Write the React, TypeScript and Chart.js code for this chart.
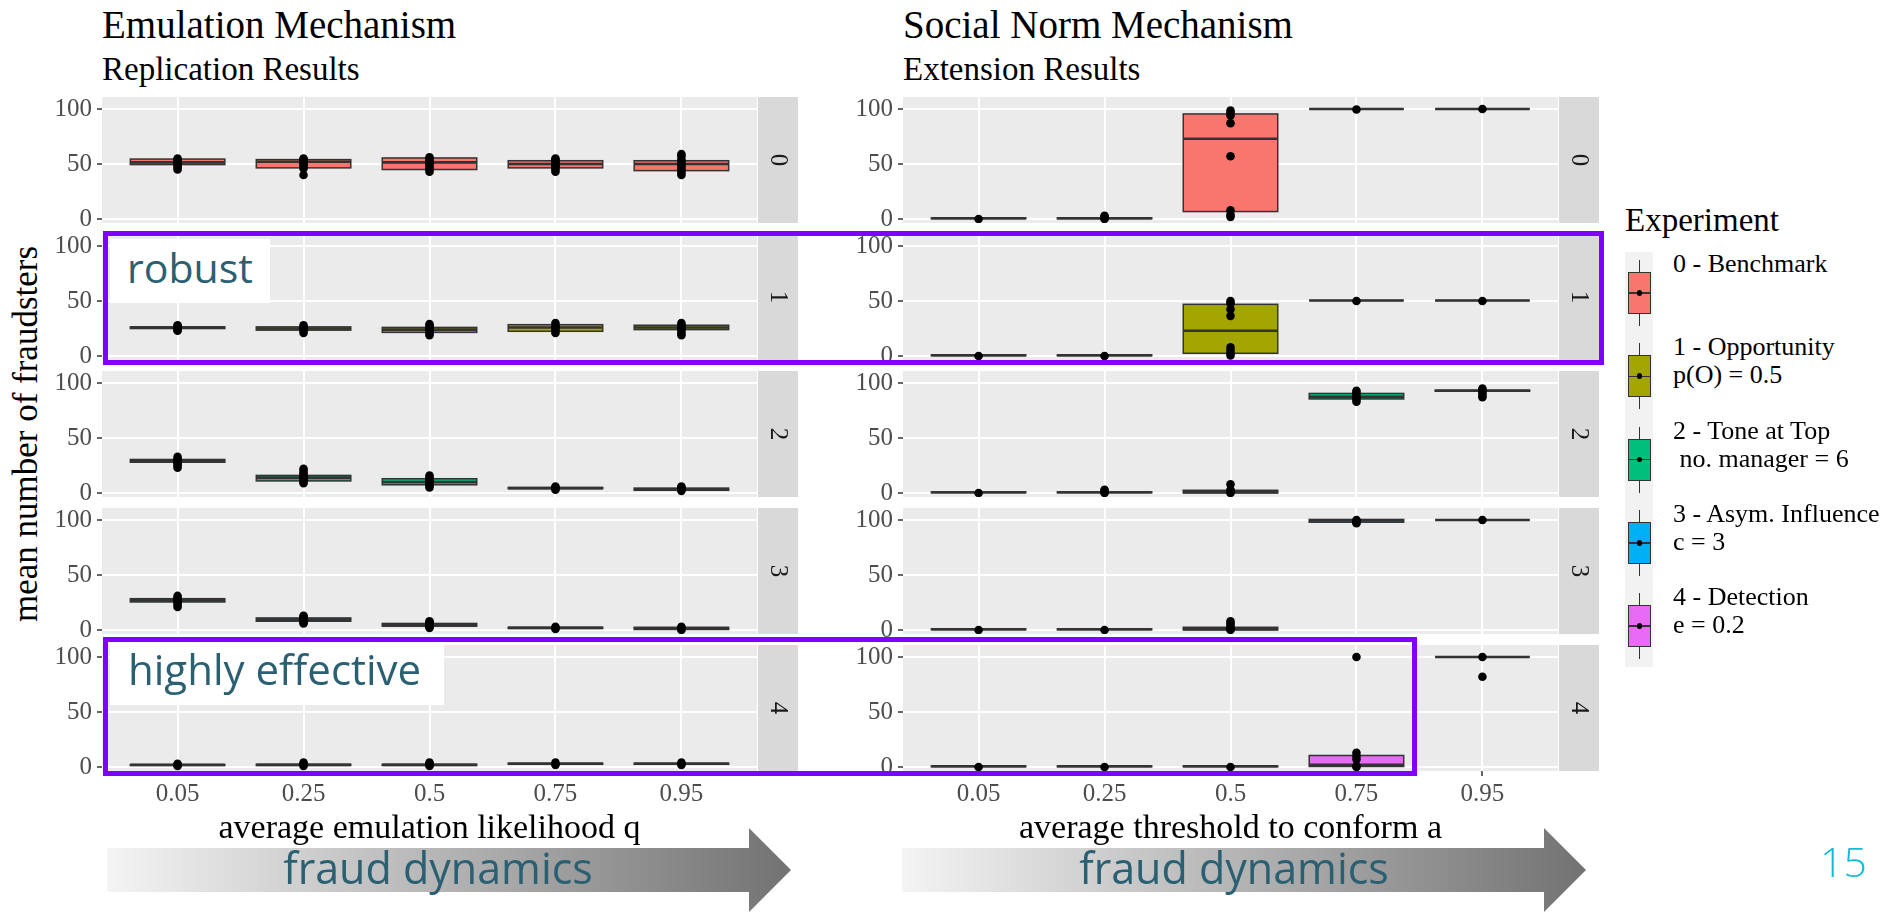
import React, { useEffect, useRef } from 'react';
import { Chart, registerables } from 'chart.js';
Chart.register(...registerables);

// ---------------- data ----------------
const categories = ['0.05', '0.25', '0.5', '0.75', '0.95'];
const experimentIds = ['0', '1', '2', '3', '4'];
const experimentColors = ['#F8766D', '#A3A500', '#00BF7D', '#00B0F6', '#E76BF3'];
const legendTitle = 'Experiment';
const legendLines = [
  ['0 - Benchmark', ''],
  ['1 - Opportunity', 'p(O) = 0.5'],
  ['2 - Tone at Top', ' no. manager = 6'],
  ['3 - Asym. Influence', 'c = 3'],
  ['4 - Detection', 'e = 0.2'],
];
const yTickValues = [0, 25, 50, 75, 100];
const yLabelledTicks = [0, 50, 100];
const yAxisTitle = 'mean number of fraudsters';
const emuTitle = 'Emulation Mechanism';
const emuSubtitle = 'Replication Results';
const emuXTitle = 'average emulation likelihood q';
const normTitle = 'Social Norm Mechanism';
const normSubtitle = 'Extension Results';
const normXTitle = 'average threshold to conform a';

// Emulation mechanism (rows = experiments 0..4, columns = categories)
const emuQ1 = [
  [49.5, 46.5, 45, 46.5, 44],
  [25, 23.5, 21.5, 22.5, 24],
  [28, 11, 7.5, 4, 2.5],
  [25.5, 8, 3.5, 1.5, 0.5],
  [1.5, 1.5, 1.5, 2.5, 2.5],
];
const emuMedian = [
  [51.5, 52, 51.5, 50, 50],
  [26, 25, 24, 26, 26],
  [29.5, 14, 10, 4.5, 3.5],
  [27, 9.5, 4.5, 2, 1.5],
  [2, 2, 2, 3, 3],
];
const emuQ3 = [
  [54.5, 54, 55.5, 53, 53],
  [26.5, 26.5, 26, 28.5, 28],
  [30.5, 16, 13, 5, 4.5],
  [28.5, 11, 6, 2.5, 2.5],
  [2.2, 2.5, 2.5, 3.5, 3.5],
];
const emuPoints = [
  [
    [45, 47, 49, 50, 51, 52, 53, 54, 55],
    [40, 46, 48, 50, 51, 52, 53, 54, 55],
    [43, 45, 47, 49, 51, 52, 53, 55, 56],
    [43, 45, 47, 48, 50, 51, 52, 54, 55],
    [40, 42, 44, 46, 48, 50, 52, 54, 57, 59],
  ],
  [
    [23, 24, 25, 26, 27, 28],
    [21, 23, 24, 25, 26, 28],
    [19, 21, 22, 24, 25, 27, 29],
    [21, 23, 25, 27, 28, 30],
    [19, 21, 23, 25, 26, 27, 28, 30],
  ],
  [
    [23, 25, 27, 28, 29, 30, 31, 33],
    [9, 11, 12, 13, 14, 15, 16, 18, 20, 22],
    [5, 7, 8, 9, 10, 11, 12, 14, 16],
    [3, 4, 5, 6],
    [2, 3, 4, 5, 6],
  ],
  [
    [21, 23, 25, 26, 27, 28, 29, 31],
    [6, 7, 8, 9, 10, 11, 12, 13],
    [2, 3, 4, 5, 6, 7, 8],
    [1, 2, 3],
    [0, 1, 2, 3],
  ],
  [
    [1, 2, 3],
    [1, 2, 3, 4],
    [1, 2, 3, 4],
    [2, 3, 4],
    [2, 3, 4],
  ],
];

// Social norm mechanism
const normQ1 = [
  [0.3, 0.3, 6.8, 100, 100],
  [0.3, 0.3, 2.5, 50.5, 50.5],
  [0.3, 0.3, 0, 85.5, 92.5],
  [0.3, 0.3, 0, 98, 100],
  [0.3, 0.3, 0.3, 0.5, 100],
];
const normMedian = [
  [0.7, 0.7, 73, 100, 100],
  [0.7, 0.7, 23, 50.5, 50.5],
  [0.7, 0.7, 1, 87.5, 93],
  [0.7, 0.7, 1, 99.5, 100],
  [0.7, 0.7, 0.7, 2, 100],
];
const normQ3 = [
  [1, 1, 95.5, 100, 100],
  [1, 1, 47, 50.5, 50.5],
  [1, 1, 2.5, 90.5, 93.5],
  [1, 1, 2.5, 100.5, 100],
  [1, 1, 1, 10.5, 100],
];
const normPoints = [
  [[0], [0, 1, 2, 3], [2, 4, 8, 57, 87, 94, 96.5, 98.5], [99.5], [100]],
  [[0], [0], [0.5, 2.5, 5, 8, 36.5, 42.5, 48, 50], [50], [50]],
  [[0], [0, 1, 2, 3], [0, 1, 2, 3, 8], [83, 85, 87, 89, 91, 93], [87, 89, 91, 93, 95]],
  [[0], [0], [0, 1, 2, 4, 6, 8], [97, 98, 99, 100], [100]],
  [[0], [0], [0], [0, 1, 7, 10, 13, 100], [82, 100]],
];

// ---------------- layout / style ----------------
const SERIF = '"Liberation Serif", "Times New Roman", serif';
const SANS = '"Open Sans", "Noto Sans", sans-serif';
const PANEL_LEFT = [102, 903];
const PANEL_W = 655;
const PANEL_H = 126;
const PANEL_TOP = [97, 234, 371, 508, 645];
const AXIS_W = 62;
const STRIP_GAP = 1;
const STRIP_W = 40;
const PAD = 10;
const XAXIS_H = 78;
const TEAL = '#2B6073';
const PURPLE = '#7F00FF';

function whiskerEnds(points: number[], q1: number, q3: number) {
  const iqr = q3 - q1;
  const lo = q1 - 1.5 * iqr;
  const hi = q3 + 1.5 * iqr;
  const inside = points.filter((p) => p >= lo && p <= hi);
  const min = inside.length ? Math.min(q1, ...inside) : q1;
  const max = inside.length ? Math.max(q3, ...inside) : q3;
  return [min, max];
}

function Panel({ col, row }: { col: number; row: number }) {
  const ref = useRef<HTMLCanvasElement | null>(null);
  const isBottom = row === 4;
  const q1 = col === 0 ? emuQ1[row] : normQ1[row];
  const med = col === 0 ? emuMedian[row] : normMedian[row];
  const q3 = col === 0 ? emuQ3[row] : normQ3[row];
  const pts = col === 0 ? emuPoints[row] : normPoints[row];
  const xTitle = col === 0 ? emuXTitle : normXTitle;
  const width = AXIS_W + PANEL_W + STRIP_GAP + STRIP_W;
  const height = PAD + PANEL_H + (isBottom ? XAXIS_H : PAD);

  useEffect(() => {
    if (!ref.current) return;
    const color = experimentColors[row];
    const deco = {
      id: 'deco' + col + row,
      beforeDraw(chart: any) {
        const { ctx, chartArea } = chart;
        ctx.save();
        ctx.fillStyle = '#EBEBEB';
        ctx.fillRect(chartArea.left, chartArea.top, chartArea.right - chartArea.left, chartArea.bottom - chartArea.top);
        ctx.restore();
      },
      afterDatasetDraw(chart: any, args: any) {
        if (args.index !== 0) return;
        const { ctx } = chart;
        const ys = chart.scales.y;
        const meta = chart.getDatasetMeta(0);
        ctx.save();
        ctx.strokeStyle = '#333333';
        meta.data.forEach((el: any, i: number) => {
          const w = el.width;
          const x = el.x;
          const [wlo, whi] = whiskerEnds(pts[i], q1[i], q3[i]);
          const yq1 = ys.getPixelForValue(q1[i]);
          const yq3 = ys.getPixelForValue(q3[i]);
          const ym = ys.getPixelForValue(med[i]);
          ctx.lineWidth = 1.2;
          ctx.beginPath();
          ctx.moveTo(x, yq3);
          ctx.lineTo(x, ys.getPixelForValue(whi));
          ctx.moveTo(x, yq1);
          ctx.lineTo(x, ys.getPixelForValue(wlo));
          ctx.stroke();
          ctx.lineWidth = 1.5;
          ctx.strokeRect(x - w / 2, yq3, w, yq1 - yq3);
          ctx.lineWidth = 2.6;
          ctx.beginPath();
          ctx.moveTo(x - w / 2, ym);
          ctx.lineTo(x + w / 2, ym);
          ctx.stroke();
        });
        ctx.restore();
      },
      afterDraw(chart: any) {
        const { ctx, chartArea } = chart;
        const sx = chartArea.right + STRIP_GAP;
        ctx.save();
        ctx.fillStyle = '#D9D9D9';
        ctx.fillRect(sx, chartArea.top, STRIP_W, chartArea.bottom - chartArea.top);
        ctx.translate(sx + STRIP_W / 2, (chartArea.top + chartArea.bottom) / 2);
        ctx.rotate(Math.PI / 2);
        ctx.fillStyle = '#1A1A1A';
        ctx.font = '25px ' + SERIF;
        ctx.textAlign = 'center';
        ctx.textBaseline = 'middle';
        ctx.fillText(experimentIds[row], 0, 0);
        ctx.restore();
      },
    };

    const chart = new Chart(ref.current, {
      type: 'bar',
      data: {
        datasets: [
          {
            type: 'bar',
            data: categories.map((_, i) => ({ x: i + 1, y: [q1[i], q3[i]] })),
            backgroundColor: color,
            borderWidth: 0,
            barPercentage: 0.75,
            categoryPercentage: 1,
            grouped: false,
            order: 2,
          } as any,
          {
            type: 'scatter',
            data: pts.flatMap((arr, i) => arr.map((v) => ({ x: i + 1, y: v }))),
            pointRadius: 4.3,
            pointBackgroundColor: '#000000',
            pointBorderWidth: 0,
            order: 1,
          } as any,
        ],
      },
      options: {
        animation: false,
        responsive: false,
        devicePixelRatio: 1,
        events: [],
        layout: { padding: { top: PAD, bottom: isBottom ? 0 : PAD, left: 0, right: STRIP_GAP + STRIP_W } },
        plugins: { legend: { display: false }, tooltip: { enabled: false } },
        scales: {
          x: {
            type: 'linear',
            min: 0.4,
            max: 5.6,
            offset: false,
            afterBuildTicks: (s: any) => {
              s.ticks = categories.map((_, i) => ({ value: i + 1 }));
            },
            afterFit: (s: any) => {
              s.height = isBottom ? XAXIS_H : 0;
              s.paddingLeft = 0;
              s.paddingRight = 0;
            },
            grid: {
              color: '#FFFFFF',
              lineWidth: 2,
              offset: false,
              drawTicks: isBottom,
              tickLength: 5,
              tickColor: '#333333',
              tickWidth: 1.5,
            },
            border: { display: false },
            ticks: {
              display: isBottom,
              autoSkip: false,
              maxRotation: 0,
              padding: 3,
              color: '#4D4D4D',
              font: { family: SERIF, size: 25 },
              callback: (v: any) => categories[Math.round(Number(v)) - 1] ?? '',
            },
            title: {
              display: isBottom,
              text: xTitle,
              color: '#000000',
              font: { family: SERIF, size: 34 },
              padding: 0,
            },
          },
          y: {
            type: 'linear',
            min: -3.6,
            max: 110.9,
            afterBuildTicks: (s: any) => {
              s.ticks = yTickValues.map((v) => ({ value: v }));
            },
            afterFit: (s: any) => {
              s.width = AXIS_W;
              s.paddingTop = 0;
              s.paddingBottom = 0;
            },
            grid: {
              color: '#FFFFFF',
              lineWidth: (c: any) => (c.tick && yLabelledTicks.includes(c.tick.value) ? 2 : 1),
              drawTicks: true,
              tickLength: 5,
              tickColor: (c: any) => (c.tick && yLabelledTicks.includes(c.tick.value) ? '#333333' : 'rgba(0,0,0,0)'),
              tickWidth: 1.5,
            },
            border: { display: false },
            ticks: {
              padding: 5,
              color: '#4D4D4D',
              font: { family: SERIF, size: 25 },
              callback: (v: any) => (yLabelledTicks.includes(Number(v)) ? String(v) : ''),
            },
          },
        },
      } as any,
      plugins: [deco],
    });
    return () => chart.destroy();
  }, []);

  return (
    <canvas
      ref={ref}
      width={width}
      height={height}
      style={{
        position: 'absolute',
        left: PANEL_LEFT[col] - AXIS_W,
        top: PANEL_TOP[row] - PAD,
        width,
        height,
        display: 'block',
      }}
    />
  );
}

function Txt(props: {
  x: number;
  base: number;
  size: number;
  family?: string;
  color?: string;
  center?: boolean;
  weight?: number;
  children: React.ReactNode;
}) {
  const family = props.family || SERIF;
  const asc = family === SERIF ? 0.8375 : 0.888;
  return (
    <div
      style={{
        position: 'absolute',
        left: props.x,
        top: props.base - asc * props.size,
        fontSize: props.size,
        lineHeight: props.size + 'px',
        fontFamily: family,
        color: props.color || '#000',
        fontWeight: props.weight || 400,
        whiteSpace: 'pre',
        transform: props.center ? 'translateX(-50%)' : undefined,
      }}
    >
      {props.children}
    </div>
  );
}

function Legend() {
  const keyCenters = experimentIds.map((_, i) => 293 + i * 83.25);
  return (
    <>
      <Txt x={1625} base={232} size={33}>
        {legendTitle}
      </Txt>
      <div style={{ position: 'absolute', left: 1625, top: 252, width: 28, height: 415, background: '#F2F2F2' }} />
      {keyCenters.map((cy, i) => (
        <React.Fragment key={i}>
          <div style={{ position: 'absolute', left: 1639, top: cy - 33, width: 1.2, height: 66, background: '#333' }} />
          <div
            style={{
              position: 'absolute',
              left: 1628,
              top: cy - 21,
              width: 23,
              height: 42,
              boxSizing: 'border-box',
              border: '1.2px solid #333',
              background: experimentColors[i],
            }}
          />
          <div style={{ position: 'absolute', left: 1628, top: cy - 0.75, width: 23, height: 1.5, background: '#333' }} />
          <div
            style={{
              position: 'absolute',
              left: 1639.6 - 2.8,
              top: cy - 2.8,
              width: 5.6,
              height: 5.6,
              borderRadius: '50%',
              background: '#000',
            }}
          />
          <Txt x={1673} base={cy - 20} size={26}>
            {legendLines[i][0]}
          </Txt>
          {legendLines[i][1] ? (
            <Txt x={1673} base={cy + 8} size={26}>
              {legendLines[i][1]}
            </Txt>
          ) : null}
        </React.Fragment>
      ))}
    </>
  );
}

function Arrows() {
  return (
    <svg
      width={1902}
      height={912}
      style={{ position: 'absolute', left: 0, top: 0, pointerEvents: 'none' }}
    >
      <defs>
        <linearGradient id="gl" gradientUnits="userSpaceOnUse" x1={107} y1={0} x2={791} y2={0}>
          <stop offset="0" stopColor="#F4F4F4" />
          <stop offset="1" stopColor="#727272" />
        </linearGradient>
        <linearGradient id="gr" gradientUnits="userSpaceOnUse" x1={902} y1={0} x2={1586} y2={0}>
          <stop offset="0" stopColor="#F4F4F4" />
          <stop offset="1" stopColor="#727272" />
        </linearGradient>
      </defs>
      <polygon points="107,848 749,848 749,828 791,870 749,912 749,892 107,892" fill="url(#gl)" />
      <polygon points="902,848 1544,848 1544,828 1586,870 1544,912 1544,892 902,892" fill="url(#gr)" />
    </svg>
  );
}

export default function App() {
  const rows = [0, 1, 2, 3, 4];
  return (
    <div
      style={{
        position: 'absolute',
        left: 0,
        top: 0,
        width: 1902,
        height: 912,
        overflow: 'hidden',
        background: '#FFFFFF',
      }}
    >
      <Txt x={102} base={38} size={39}>
        {emuTitle}
      </Txt>
      <Txt x={102} base={81} size={33}>
        {emuSubtitle}
      </Txt>
      <Txt x={903} base={38} size={39}>
        {normTitle}
      </Txt>
      <Txt x={903} base={81} size={33}>
        {normSubtitle}
      </Txt>
      <div
        style={{
          position: 'absolute',
          left: 25,
          top: 434,
          transform: 'translate(-50%, -50%) rotate(-90deg)',
          fontFamily: SERIF,
          fontSize: 35,
          lineHeight: '35px',
          whiteSpace: 'pre',
          color: '#000',
        }}
      >
        {yAxisTitle}
      </div>
      {rows.map((r) => (
        <Panel key={'l' + r} col={0} row={r} />
      ))}
      {rows.map((r) => (
        <Panel key={'r' + r} col={1} row={r} />
      ))}
      <Legend />

      {/* slide annotations */}
      <div
        style={{
          position: 'absolute',
          left: 102.5,
          top: 230.5,
          width: 1501,
          height: 134,
          boxSizing: 'border-box',
          border: '5px solid ' + PURPLE,
        }}
      />
      <div
        style={{
          position: 'absolute',
          left: 102.5,
          top: 637,
          width: 1314,
          height: 138.5,
          boxSizing: 'border-box',
          border: '5px solid ' + PURPLE,
        }}
      />
      <div style={{ position: 'absolute', left: 110, top: 239, width: 160, height: 64, background: '#FFFFFF' }} />
      <Txt x={127} base={283} size={41} family={SANS} color={TEAL}>
        robust
      </Txt>
      <div style={{ position: 'absolute', left: 110, top: 645, width: 334, height: 60, background: '#FFFFFF' }} />
      <Txt x={128} base={685} size={42} family={SANS} color={TEAL}>
        highly effective
      </Txt>

      <Arrows />
      <Txt x={438} base={884} size={43} family={SANS} color={TEAL} center>
        fraud dynamics
      </Txt>
      <Txt x={1234} base={884} size={43} family={SANS} color={TEAL} center>
        fraud dynamics
      </Txt>
      <Txt x={1820} base={877} size={41} family={SANS} color="#10BCD6" weight={300}>
        15
      </Txt>
    </div>
  );
}
